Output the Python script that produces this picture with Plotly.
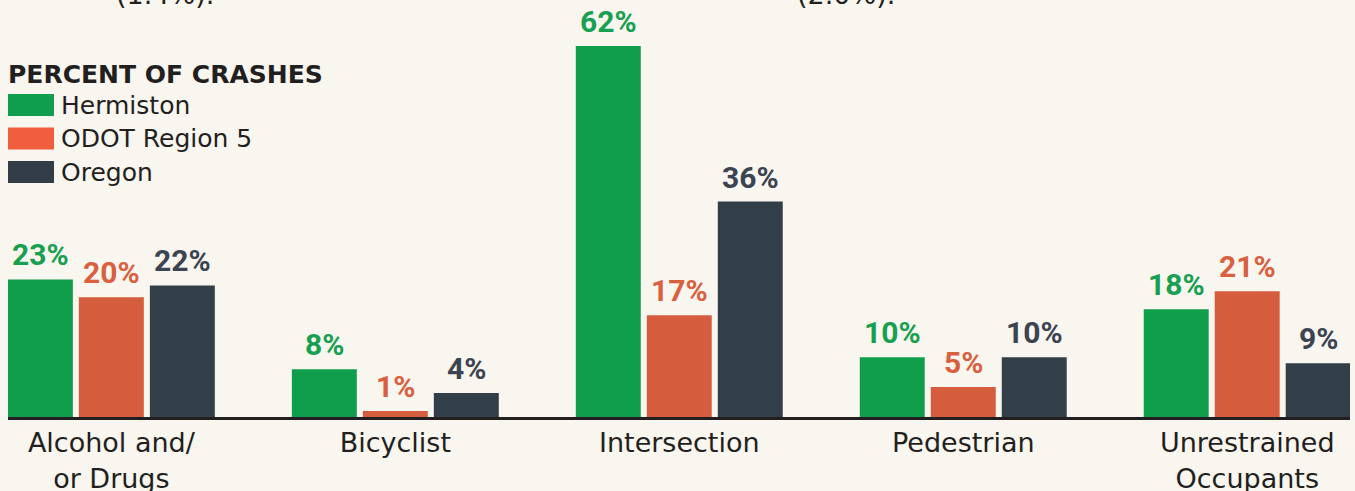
import plotly.graph_objects as go

categories = ["Alcohol and/<br>or Drugs", "Bicyclist", "Intersection", "Pedestrian", "Unrestrained<br>Occupants"]
series_names = ["Hermiston", "ODOT Region 5", "Oregon"]
hermiston = [23, 8, 62, 10, 18]
odot_region5 = [20, 1, 17, 5, 21]
oregon = [22, 4, 36, 10, 9]
legend_title = "PERCENT OF CRASHES"
top_fragments = ["(1.4%).", "(2.0%)."]

bar_colors = ["#119e4c", "#d55d3d", "#323e48"]
label_colors = ["#17a04f", "#d9603e", "#3b4450"]
swatch_colors = ["#0f9d4e", "#f15d3f", "#323d47"]
bg = "#f9f5ef"
ink = "#231f20"
text_font = "DejaVu Sans"

W, H = 1355, 491
ML, MR, MT, MB = 8, 5, 0, 74
BARGAP = 0.25
BARGROUPGAP = 0.085

values = [hermiston, odot_region5, oregon]
xs = list(range(len(categories)))

fig = go.Figure()
for name, vals, col in zip(series_names, values, bar_colors):
    fig.add_trace(go.Bar(x=xs, y=vals, name=name, marker=dict(color=col, line=dict(width=0)),
                         showlegend=False, hoverinfo="name+y"))

# value labels above bars
slot = (1 - BARGAP) / len(values)
annotations = []
for j, (vals, col) in enumerate(zip(values, label_colors)):
    off = (j - (len(values) - 1) / 2) * slot
    for i, v in zip(xs, vals):
        annotations.append(dict(x=i + off, y=v, xref="x", yref="y", text=f"<b>{v}%</b>",
                                showarrow=False, yanchor="bottom", xanchor="center", yshift=5,
                                font=dict(family="Roboto", size=30, color=col)))

pw = W - ML - MR
ph = H - MT - MB
def px(xp):
    return (xp - ML) / pw
def py(yp):
    return (ph + MT - yp) / ph

# fragments of the text above the chart (cut off by the top edge)
for txt, cx in zip(top_fragments, [165, 846]):
    annotations.append(dict(x=px(cx), y=py(12), xref="paper", yref="paper", text=txt,
                            showarrow=False, xanchor="center", yanchor="bottom",
                            font=dict(family=text_font, size=27, color=ink)))

shapes = []
# manual legend
annotations.append(dict(x=px(6), y=py(74), xref="paper", yref="paper", text=f"<b>{legend_title}</b>",
                        showarrow=False, xanchor="left", yanchor="middle",
                        font=dict(family=text_font, size=25, color=ink)))
for k, (name, col) in enumerate(zip(series_names, swatch_colors)):
    top = 94 + k * 33.5
    shapes.append(dict(type="rect", xref="paper", yref="paper", x0=px(8), x1=px(54),
                       y0=py(top), y1=py(top + 22), fillcolor=col, line=dict(width=0), layer="above"))
    annotations.append(dict(x=px(59), y=py(top + 11), xref="paper", yref="paper", text=name,
                            showarrow=False, xanchor="left", yanchor="middle",
                            font=dict(family=text_font, size=25, color=ink)))

fig.update_layout(
    width=W, height=H,
    margin=dict(l=ML, r=MR, t=MT, b=MB, pad=0, autoexpand=False),
    paper_bgcolor=bg, plot_bgcolor=bg,
    barmode="group", bargap=BARGAP, bargroupgap=BARGROUPGAP,
    showlegend=False,
    annotations=annotations, shapes=shapes,
    xaxis=dict(range=[-0.364, 4.362], tickmode="array", tickvals=xs, ticktext=categories,
               showgrid=False, zeroline=False, showline=True, linecolor=ink, linewidth=3,
               ticks="", automargin=False,
               tickfont=dict(family=text_font, size=27, color=ink), fixedrange=True),
    yaxis=dict(range=[0, 69.7], visible=False, showgrid=False, zeroline=False,
               automargin=False, fixedrange=True),
)

fig.write_html("out.html", config={"displayModeBar": False},
               post_script="document.body.style.margin='0';document.body.style.overflow='hidden';document.body.style.background='" + bg + "';")
